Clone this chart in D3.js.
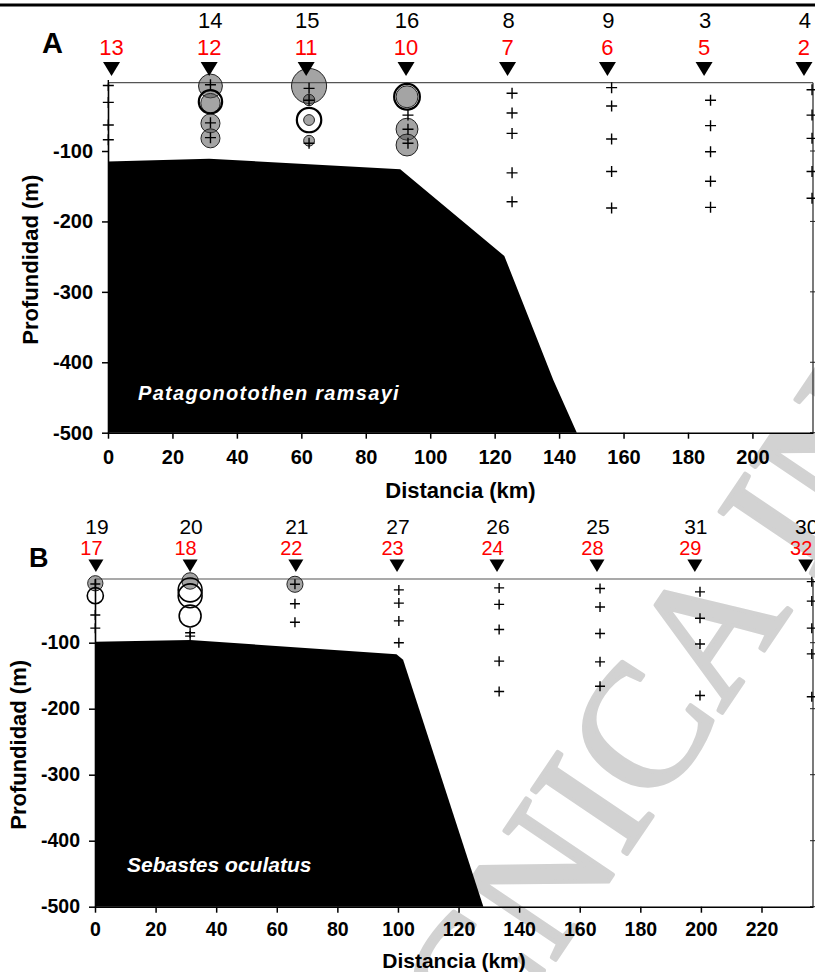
<!DOCTYPE html>
<html lang="es">
<head>
<meta charset="UTF-8">
<title>Distribución vertical por estación</title>
<script src="https://d3js.org/d3.v7.min.js"></script>
<style>
  body { margin: 0; background: #fff; }
  svg text { font-family: "Liberation Sans", Arial, sans-serif; }
</style>
</head>
<body>
<svg width="815" height="972"></svg>
<script>
// ---------- shared ticks ----------
const yTicks = [-100, -200, -300, -400, -500];
const xTicksA = [0, 20, 40, 60, 80, 100, 120, 140, 160, 180, 200];
const xTicksB = [0, 20, 40, 60, 80, 100, 120, 140, 160, 180, 200, 220];

// ---------- panel A: Patagonotothen ramsayi ----------
const stationKmA = [1.1, 31.4, 61.5, 92.5, 124, 155, 185, 216];
const redLabelsA = ["13", "12", "11", "10", "7", "6", "5", "2"];
const blackLabelsA = ["", "14", "15", "16", "8", "9", "3", "4"];
// seabed profile [km, depth m]
const seabedA = [[0, -115], [31.4, -111], [90.7, -126], [123, -249], [138.2, -425], [145.5, -500]];
// sampled depths (crosses) [km, depth]
const samplesA = [
  [0.1, -7], [0.1, -31], [0.1, -63], [0.1, -84],
  [31.8, -6], [31.8, -60], [31.8, -81],
  [62.4, -11], [62.4, -28], [62.4, -89],
  [93.1, -49], [93.1, -69], [93.1, -89],
  [125.4, -18], [125.4, -46], [125.4, -75], [125.4, -131], [125.4, -172],
  [156.3, -10], [156.3, -36], [156.3, -83], [156.3, -129], [156.3, -181],
  [187, -28], [187, -64], [187, -101], [187, -143], [187, -180],
  [218.5, -13], [218.5, -49], [218.5, -82], [218.5, -129], [218.5, -167]
];
// filled circles [km, depth, abundance]
const grayA = [
  [31.8, -7.7, 44], [31.8, -32, 29], [31.8, -60.7, 28], [31.8, -82, 28],
  [62.4, -7.7, 95], [62.4, -27.6, 10], [62.4, -56, 9], [62.4, -85.4, 9],
  [92.8, -23, 37], [92.8, -69, 37], [92.8, -91.5, 37]
];
// open circles [km, depth, abundance]
const openA = [[31.8, -30, 42], [62.4, -56, 46], [92.8, -23, 51]];

// ---------- panel B: Sebastes oculatus ----------
const stationKmB = [0.3, 31.4, 66.3, 99.7, 132.7, 165.7, 198, 234.6];
const redLabelsB = ["17", "18", "22", "23", "24", "28", "29", "32"];
const blackLabelsB = ["19", "20", "21", "27", "26", "25", "31", "30"];
const seabedB = [[0, -98.5], [31.4, -96], [99.5, -117.6], [101.7, -126], [128.2, -500]];
const samplesB = [
  [0.1, -11], [0.1, -58], [0.1, -78],
  [31.4, -85], [31.4, -90],
  [66, -11.5], [66, -41], [66, -69],
  [100.3, -20], [100.3, -40], [100.3, -67], [100.3, -100],
  [133.4, -17], [133.4, -42], [133.4, -80], [133.4, -128], [133.4, -174],
  [166.7, -18], [166.7, -46], [166.7, -86], [166.7, -129], [166.7, -166],
  [199.7, -23], [199.7, -63], [199.7, -102], [199.7, -180],
  [236.6, -7.5], [236.6, -37], [236.6, -78], [236.6, -117], [236.6, -182]
];
const grayB = [[0.1, -10, 18], [31.4, -6.5, 21], [66, -11.5, 20]];
const openB = [[0.1, -28.8, 20], [31.4, -20, 44], [31.4, -29, 44], [31.4, -59.6, 37]];

const svg = d3.select("svg");
svg.append("rect").attr("width", 815).attr("height", 972).attr("fill", "#fff");

// watermark (sits under the chart)
svg.append("text")
  .attr("transform", "translate(368,1238) rotate(-56)")
  .style("font-family", "'Liberation Serif', serif")
  .attr("font-size", 175)
  .attr("fill", "#d2d2d2")
  .attr("stroke", "#d2d2d2").attr("stroke-width", 4).attr("stroke-linejoin", "round")
  .text("TÉCNICA INIDEP");

// page rule at the very top
svg.append("line").attr("x1", 0).attr("x2", 815).attr("y1", 5).attr("y2", 5)
  .attr("stroke", "#000").attr("stroke-width", 3);

const rScale = d3.scaleSqrt().domain([0, 100]).range([0, 18]);

function drawPanel(p) {
  const x = d3.scaleLinear().domain([0, p.xMax]).range([p.left, p.right]);
  const y = d3.scaleLinear().domain([-500, p.yTop]).range([p.bottom, p.top]);
  const g = svg.append("g");

  // seabed
  const area = d3.line().x(d => x(d[0])).y(d => y(d[1]));
  g.append("path")
    .attr("d", area([[0, -500], ...p.seabed]) + "Z")
    .attr("fill", "#000");

  // top (surface) line and right frame
  g.append("line").attr("x1", p.left).attr("x2", p.right)
    .attr("y1", p.top).attr("y2", p.top)
    .attr("stroke", "#555").attr("stroke-width", 1.2);
  g.append("line").attr("x1", p.right).attr("x2", p.right)
    .attr("y1", p.top).attr("y2", p.bottom)
    .attr("stroke", "#222").attr("stroke-width", 1.2);
  g.selectAll(".rtick").data(yTicks).join("line")
    .attr("x1", p.right - 3).attr("x2", p.right + 4)
    .attr("y1", d => y(d)).attr("y2", d => y(d))
    .attr("stroke", "#222");

  // abundance circles
  g.selectAll(".gray").data(p.gray).join("circle")
    .attr("cx", d => x(d[0])).attr("cy", d => y(d[1]))
    .attr("r", d => rScale(d[2]))
    .attr("fill", "#505050").attr("fill-opacity", 0.52)
    .attr("stroke", "#222").attr("stroke-width", 1);
  g.selectAll(".open").data(p.open).join("circle")
    .attr("cx", d => x(d[0])).attr("cy", d => y(d[1]))
    .attr("r", d => rScale(d[2]))
    .attr("fill", "none")
    .attr("stroke", "#000").attr("stroke-width", p.ringWidth);

  // sampled depths
  const c = p.crossHalf;
  g.selectAll(".cross").data(p.samples).join("path")
    .attr("d", d => {
      const cx = x(d[0]), cy = y(d[1]);
      return `M${cx - c},${cy}H${cx + c}M${cx},${cy - c}V${cy + c}`;
    })
    .attr("stroke", "#000").attr("stroke-width", 1.4).attr("fill", "none");

  // station markers
  const tw = p.triW / 2;
  g.selectAll(".tri").data(p.stations).join("path")
    .attr("d", d => {
      const cx = x(d);
      return `M${cx - tw},${p.triTop}L${cx + tw},${p.triTop}L${cx},${p.triTop + p.triH}Z`;
    })
    .attr("fill", "#000");
  g.selectAll(".lblR").data(p.stations).join("text")
    .attr("x", (d, i) => x(d) + p.redDx).attr("y", p.redY)
    .attr("text-anchor", "middle").attr("font-size", p.redSize)
    .attr("fill", "#ff0000")
    .text((d, i) => p.red[i]);
  g.selectAll(".lblK").data(p.stations).join("text")
    .attr("x", (d, i) => x(d) + p.blackDx).attr("y", p.blackY)
    .attr("text-anchor", "middle").attr("font-size", p.blackSize)
    .attr("fill", "#000")
    .text((d, i) => p.black[i]);

  // axes
  const xAxis = g.append("g").attr("transform", `translate(0,${p.bottom})`)
    .call(d3.axisBottom(x).tickValues(p.xTicks).tickSize(6).tickSizeOuter(0)
      .tickPadding(p.xPad).tickFormat(d => String(d)));
  const yAxis = g.append("g").attr("transform", `translate(${p.left},0)`)
    .call(d3.axisLeft(y).tickValues(yTicks).tickSize(6).tickSizeOuter(0)
      .tickPadding(9).tickFormat(d => String(d)));
  [xAxis, yAxis].forEach(a => {
    a.select(".domain").attr("stroke", "#000").attr("stroke-width", 1.6);
    a.selectAll(".tick line").attr("stroke", "#000").attr("stroke-width", 1.5);
    a.selectAll("text").attr("font-size", p.tickSize)
      .attr("font-weight", "bold").attr("fill", "#000");
  });

  // axis titles
  g.append("text")
    .attr("x", (p.left + p.right) / 2).attr("y", p.xTitleY)
    .attr("text-anchor", "middle").attr("font-size", p.xTitleSize).attr("font-weight", "bold")
    .text("Distancia (km)");
  g.append("text")
    .attr("transform", `translate(${p.yTitleX},${(p.top + p.bottom) / 2 + 2}) rotate(-90)`)
    .attr("text-anchor", "middle").attr("font-size", 22).attr("font-weight", "bold")
    .text("Profundidad (m)");

  // species name and panel letter
  g.append("text")
    .attr("x", p.speciesX).attr("y", p.speciesY)
    .attr("font-size", p.speciesSize).attr("font-weight", "bold").attr("font-style", "italic")
    .attr("letter-spacing", p.speciesSpacing)
    .attr("fill", "#fff")
    .text(p.species);
  g.append("text")
    .attr("x", p.letterX).attr("y", p.letterY)
    .attr("font-size", p.letterSize).attr("font-weight", "bold")
    .text(p.letter);
}

drawPanel({
  left: 108, right: 813, top: 82.7, bottom: 432.7, xMax: 218.8, yTop: -3,
  seabed: seabedA, samples: samplesA, gray: grayA, open: openA,
  stations: stationKmA, red: redLabelsA, black: blackLabelsA,
  xTicks: xTicksA, xPad: 11, tickSize: 20,
  triTop: 62, triW: 17, triH: 14, crossHalf: 5.5, ringWidth: 2.2,
  redY: 55, redSize: 22, redDx: 0, blackY: 27.5, blackSize: 22, blackDx: 1,
  xTitleY: 498, xTitleSize: 22, yTitleX: 38,
  species: "Patagonotothen ramsayi", speciesX: 138, speciesY: 400,
  speciesSize: 20, speciesSpacing: 1.3,
  letter: "A", letterX: 42, letterY: 53, letterSize: 29
});

drawPanel({
  left: 95, right: 813, top: 579, bottom: 906.7, xMax: 237, yTop: -3.5,
  seabed: seabedB, samples: samplesB, gray: grayB, open: openB,
  stations: stationKmB, red: redLabelsB, black: blackLabelsB,
  xTicks: xTicksB, xPad: 9, tickSize: 19.5,
  triTop: 559.5, triW: 15, triH: 12.5, crossHalf: 5, ringWidth: 1.6,
  redY: 555, redSize: 20, redDx: -4.5, blackY: 534, blackSize: 21, blackDx: 1,
  xTitleY: 968, xTitleSize: 21, yTitleX: 26,
  species: "Sebastes oculatus", speciesX: 127, speciesY: 872,
  speciesSize: 21, speciesSpacing: 0,
  letter: "B", letterX: 29, letterY: 567, letterSize: 27
});
</script>
</body>
</html>
